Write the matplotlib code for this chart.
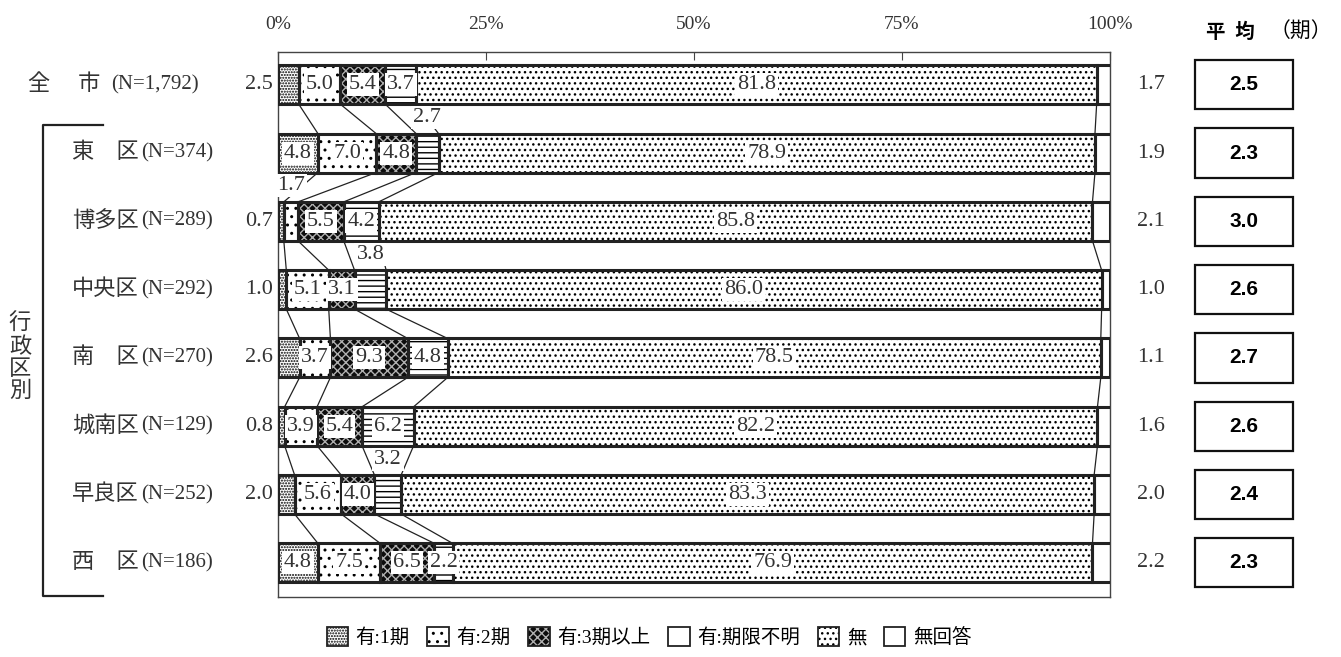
import numpy as np
import matplotlib
matplotlib.use('Agg')
import matplotlib.pyplot as plt
from matplotlib.patches import Patch

plt.rcParams['font.family'] = ['Liberation Serif', 'Noto Sans CJK JP']
plt.rcParams['hatch.linewidth'] = 1.0

# data
areas = ['全\u3000 市', '東\u3000区', '博多区', '中央区', '南\u3000区', '城南区', '早良区', '西\u3000区']
counts = ['1,792', '374', '289', '292', '270', '129', '252', '186']
categories = ['有:1期', '有:2期', '有:3期以上', '有:期限不明', '無', '無回答']
p1 = [2.5, 4.8, 0.7, 1.0, 2.6, 0.8, 2.0, 4.8]
p2 = [5.0, 7.0, 1.7, 5.1, 3.7, 3.9, 5.6, 7.5]
p3 = [5.4, 4.8, 5.5, 3.1, 9.3, 5.4, 4.0, 6.5]
p_unknown = [3.7, 2.7, 4.2, 3.8, 4.8, 6.2, 3.2, 2.2]
p_none = [81.8, 78.9, 85.8, 86.0, 78.5, 82.2, 83.3, 76.9]
p_na = [1.7, 1.9, 2.1, 1.0, 1.1, 1.6, 2.0, 2.2]
avg = ['2.5', '2.3', '3.0', '2.6', '2.7', '2.6', '2.4', '2.3']

# labels placed in the gap above the bar: (row, segment)
above = {(1, 3), (2, 1), (3, 3), (6, 3)}

# style per segment: face, hatch colour, hatch
styles = [
    ('white', 'black', '......'),
    ('white', 'black', '..'),
    ('#0d0d0d', '#b0b0b0', 'xxxx'),
    ('white', 'black', '---'),
    ('white', 'black', '...'),
    ('white', 'black', ''),
]

vals = np.array([p1, p2, p3, p_unknown, p_none, p_na]).T
n = len(areas)
y = np.arange(n)
h = 0.57

fig = plt.figure(figsize=(13.41, 6.57), dpi=100)
ax = fig.add_axes([0.2073, 0.0913, 0.6204, 0.8296])

left = np.zeros(n)
cum = [np.zeros(n)]
for k in range(6):
    fc, hc, ht = styles[k]
    ax.barh(y, vals[:, k], left=left, height=h, color=fc, edgecolor=hc,
            hatch=ht, linewidth=0, zorder=2)
    ax.barh(y, vals[:, k], left=left, height=h, fill=False, edgecolor='#222222',
            linewidth=2.2, zorder=3)
    left = left + vals[:, k]
    cum.append(left.copy())

# connecting lines between bars
for k in range(1, 6):
    for i in range(n - 1):
        ax.plot([cum[k][i], cum[k][i + 1]], [i + h / 2, i + 1 - h / 2],
                color='#222222', lw=0.9, zorder=1)

# value labels
box = dict(facecolor='white', edgecolor='none', pad=1.5)
for i in range(n):
    for k in range(6):
        v = vals[i, k]
        txt = f'{v:.1f}'
        mid = cum[k][i] + v / 2
        if k == 5:
            ax.text(103.3, i, txt, ha='left', va='center', fontsize=16, color='#333333')
        elif k == 0 and v < 3:
            ax.text(-0.6, i, txt, ha='right', va='center', fontsize=16, color='#333333')
        elif (i, k) in above:
            ax.text(mid, i - 0.52, txt, ha='center', va='center', fontsize=16,
                    color='#333333', zorder=5, bbox=box)
        else:
            ax.text(mid, i, txt, ha='center', va='center', fontsize=16,
                    color='#333333', zorder=5, bbox=box)

ax.set_xlim(0, 100)
ax.set_ylim(7.5, -0.48)
ax.set_yticks([])
ax.set_xticks([0, 25, 50, 75, 100])
ax.set_xticklabels(['0%', '25%', '50%', '75%', '100%'])
ax.xaxis.tick_top()
ax.tick_params(axis='x', direction='in', length=6, pad=14, labelsize=14,
               labelcolor='#333333', color='#444444')
for s in ax.spines.values():
    s.set_color('#444444')
    s.set_linewidth(1.0)

# row labels: name and sample size
tr = ax.get_yaxis_transform()
for i in range(n):
    xa = -0.300 if i == 0 else -0.2476
    xn = -0.2005 if i == 0 else -0.1650
    ax.text(xa, i, areas[i], transform=tr, ha='left', va='center',
            fontsize=16, color='#333333')
    ax.text(xn, i, f'(N={counts[i]})', transform=tr, ha='left', va='center',
            fontsize=15, color='#333333')

# bracket for districts
ax.plot([-0.21, -0.282, -0.282, -0.21], [0.59, 0.59, 7.49, 7.49], transform=tr,
        color='#222222', lw=1.6, clip_on=False)
ax.text(-0.31, 4.0, '行\n政\n区\n別', transform=tr, ha='center', va='center',
        fontsize=16, color='#333333', linespacing=1.15)

# averages
ax2 = fig.add_axes([0.8896, 0.0913, 0.0761, 0.8296], sharey=ax)
ax2.barh(y, [1] * n, height=0.72, color='white', edgecolor='#111111', linewidth=1.6)
for i in range(n):
    ax2.text(0.5, i, avg[i], ha='center', va='center', fontsize=15,
             fontweight='bold', family=['Liberation Sans', 'Noto Sans CJK JP'])
ax2.set_xlim(-0.02, 1.02)
ax2.axis('off')
fig.text(0.9175, 0.951, '平\u2002均', ha='center', va='center', fontsize=14,
         fontweight='bold', family=['Noto Sans CJK JP'])
fig.text(0.970, 0.951, '（期）', ha='center', va='center', fontsize=15,
         family=['Noto Sans CJK JP'])

# legend
handles = []
for k in range(6):
    fc, hc, ht = styles[k]
    if k == 3:
        ht = ''
    base = Patch(facecolor=fc, edgecolor=hc, hatch=ht, linewidth=0)
    edge = Patch(fill=False, edgecolor='#222222', linewidth=1.3)
    handles.append((base, edge))
fig.legend(handles, categories, loc='center', bbox_to_anchor=(0.484, 0.03), ncol=6,
           frameon=False, handlelength=1.1, handleheight=1.1, columnspacing=0.9,
           handletextpad=0.4, fontsize=14)

fig.savefig('out.png', dpi=100)
